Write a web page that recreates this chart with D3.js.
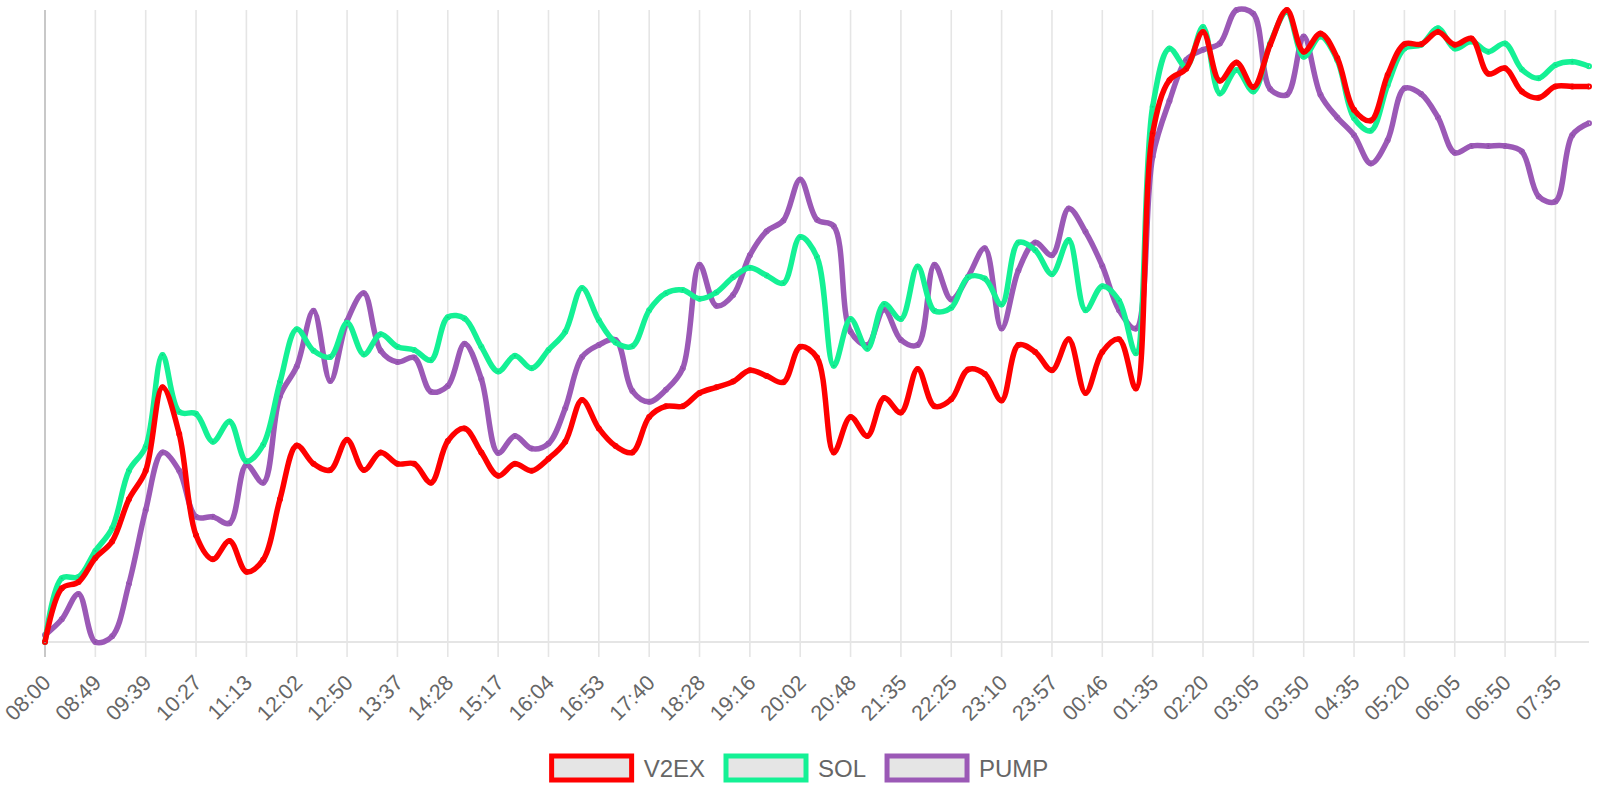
<!DOCTYPE html>
<html>
<head>
<meta charset="utf-8">
<script src="https://cdn.jsdelivr.net/npm/d3@7/dist/d3.min.js"></script>
<style>
  body { margin: 0; background: #fff; }
  svg { display: block; font-family: "Liberation Sans", Arial, sans-serif; }
</style>
</head>
<body>
<div class="chart"></div>
<script>
var w = 1600;
var h = 800;

// shown x labels (one every 3 samples)
var tickLabels = ["08:00", "08:49", "09:39", "10:27", "11:13", "12:02", "12:50", "13:37", "14:28", "15:17",
    "16:04", "16:53", "17:40", "18:28", "19:16", "20:02", "20:48", "21:35", "22:25", "23:10",
    "23:57", "00:46", "01:35", "02:20", "03:05", "03:50", "04:35", "05:20", "06:05", "06:50", "07:35"];
var tickEvery = 3;

var seriesNames = ["V2EX", "SOL", "PUMP"];
var seriesColors = ["#ff0000", "#14f195", "#9b59b6"];

var v2ex = [0, 8.5, 9.5, 13.3, 15.9, 22.6, 27.1, 40.3, 32.9, 16.9,
    13.1, 16.0, 11.1, 13.0, 22.6, 31.1, 28.2, 27.2, 32.0, 27.2,
    30.0, 28.2, 28.2, 25.2, 31.8, 33.8, 30.0, 26.3, 28.2, 27.1,
    29.0, 31.7, 38.3, 33.8, 31.0, 30.0, 35.6, 37.3, 37.3, 39.4,
    40.3, 41.2, 43.0, 42.1, 41.1, 46.7, 45.0, 30.0, 35.6, 32.6,
    38.6, 36.3, 43.2, 37.3, 38.4, 43.1, 42.4, 38.2, 47.0, 45.9,
    43.0, 47.9, 39.4, 45.9, 47.9, 40.1, 80.5, 88.9, 90.7, 96.5,
    88.8, 91.7, 87.8, 94.5, 100, 93.4, 96.3, 92.4, 84.2, 82.5,
    89.7, 94.6, 94.6, 96.5, 94.5, 95.5, 89.9, 90.8, 87.1, 86.1,
    87.9, 87.9, 87.9];

var sol = [0, 10.1, 10.3, 14.4, 18.0, 27.1, 30.9, 45.4, 36.4, 36.1,
    31.7, 34.9, 28.6, 31.2, 41.1, 49.5, 46.1, 45.1, 50.5, 45.5,
    48.7, 46.7, 46.2, 44.6, 51.4, 51.2, 46.7, 42.8, 45.3, 43.3,
    46.2, 49.1, 56.0, 50.9, 47.4, 46.8, 52.5, 55.2, 55.7, 54.3,
    55.3, 57.7, 59.2, 58.0, 56.8, 64.1, 60.9, 43.7, 51.1, 46.4,
    53.5, 51.1, 59.4, 52.4, 52.9, 57.7, 57.5, 53.4, 63.2, 62.0,
    58.2, 63.6, 52.5, 56.3, 54.0, 45.7, 84.7, 93.9, 91.0, 97.3,
    86.8, 90.5, 87.1, 94.7, 99.7, 92.6, 95.8, 92.1, 82.9, 80.9,
    88.1, 93.9, 94.5, 97.1, 93.9, 95.0, 93.4, 94.7, 90.6, 89.2,
    91.3, 91.8, 91.1];

var pump = [1.1, 3.6, 7.6, 0, 0.9, 9.2, 20.9, 30.0, 27.1, 19.8,
    19.8, 18.8, 28.0, 25.2, 38.9, 43.6, 52.4, 41.3, 50.8, 55.2,
    46.1, 44.3, 45.0, 39.6, 40.5, 47.2, 41.6, 29.9, 32.6, 30.6,
    31.4, 37.0, 45.1, 47.0, 47.8, 39.7, 38.0, 39.9, 43.3, 59.7,
    53.2, 54.9, 61.2, 65.0, 66.7, 73.2, 66.8, 65.8, 49.1, 47.0,
    52.6, 47.8, 47.0, 59.7, 54.2, 57.8, 62.3, 49.6, 58.8, 63.2,
    61.2, 68.6, 64.9, 59.5, 52.5, 49.6, 76.8, 85.6, 92.1, 93.7,
    94.7, 100, 99.4, 87.5, 86.6, 95.8, 86.6, 83.0, 80.2, 75.7,
    79.4, 87.6, 86.7, 83.0, 77.4, 78.5, 78.5, 78.5, 77.6, 70.5,
    69.7, 80.2, 82.1];

var allSeries = [v2ex, sol, pump];

// chart area (careful: "top" is taken by window.top)
var areaLeft = 45, areaRight = 1589, areaTop = 10, areaBottom = 642;

var x = d3.scaleLinear()
          .domain([0, v2ex.length - 1])
          .range([areaLeft, areaRight]);

var y = d3.scaleLinear()
          .domain([0, 100])
          .range([areaBottom, areaTop]);

var svg = d3.select('.chart')
            .append("svg")
            .attr("width", w)
            .attr("height", h);

// vertical grid lines at the labelled ticks
var tickIdx = tickLabels.map(function(d, i) { return i * tickEvery; });

svg.append("g")
   .selectAll("line")
   .data(tickIdx)
   .enter()
   .append("line")
   .attr("x1", function(d) { return x(d); })
   .attr("x2", function(d) { return x(d); })
   .attr("y1", areaTop)
   .attr("y2", areaBottom + 15)
   .attr("stroke", function(d, i) { return i == 0 ? "#c8c8c8" : "#e5e5e5"; })
   .attr("stroke-width", function(d, i) { return i == 0 ? 2 : 1.6; });

// x axis base line
svg.append("line")
   .attr("x1", areaLeft)
   .attr("x2", areaRight)
   .attr("y1", areaBottom)
   .attr("y2", areaBottom)
   .attr("stroke", "#e5e5e5")
   .attr("stroke-width", 2);

svg.append("g")
   .selectAll("text")
   .data(tickLabels)
   .enter()
   .append("text")
   .attr("transform", function(d, i) { return "translate(" + (x(i * tickEvery) + 3) + "," + 680 + ") rotate(-45)"; })
   .attr("text-anchor", "end")
   .attr("dominant-baseline", "middle")
   .attr("font-size", 21.5)
   .attr("fill", "#666")
   .text(function(d) { return d; });

var line = d3.line()
             .x(function(d, i) { return x(i); })
             .y(function(d) { return y(d); })
             .curve(d3.curveCatmullRom.alpha(0.5));

// draw last dataset first so V2EX ends up on top
for (let s = allSeries.length - 1; s >= 0; s--) {
    var g = svg.append("g");
    g.append("path")
     .attr("d", line(allSeries[s]))
     .attr("fill", "none")
     .attr("stroke", seriesColors[s])
     .attr("stroke-width", 5.5)
     .attr("stroke-linejoin", "round");
    g.selectAll("circle")
     .data(allSeries[s])
     .enter()
     .append("circle")
     .attr("cx", function(d, i) { return x(i); })
     .attr("cy", function(d) { return y(d); })
     .attr("r", 2)
     .attr("fill", "rgba(0,0,0,0.12)")
     .attr("stroke", seriesColors[s])
     .attr("stroke-width", 2);
}

// legend
var legend = svg.append("g");
var widths = [];
var items = seriesNames.map(function(name, i) {
    var t = legend.append("text")
                  .attr("font-size", 24)
                  .attr("fill", "#666")
                  .attr("y", 777)
                  .text(name);
    widths.push(t.node().getComputedTextLength());
    return t;
});
var total = d3.sum(widths) + seriesNames.length * (80 + 12) + (seriesNames.length - 1) * 21;
var lx = w / 2 - total / 2;
seriesNames.forEach(function(name, i) {
    legend.append("rect")
          .attr("x", lx)
          .attr("y", 756)
          .attr("width", 80)
          .attr("height", 24)
          .attr("fill", "rgba(0,0,0,0.1)")
          .attr("stroke", seriesColors[i])
          .attr("stroke-width", 5);
    items[i].attr("x", lx + 92);
    lx += 92 + widths[i] + 21;
});
</script>
</body>
</html>
